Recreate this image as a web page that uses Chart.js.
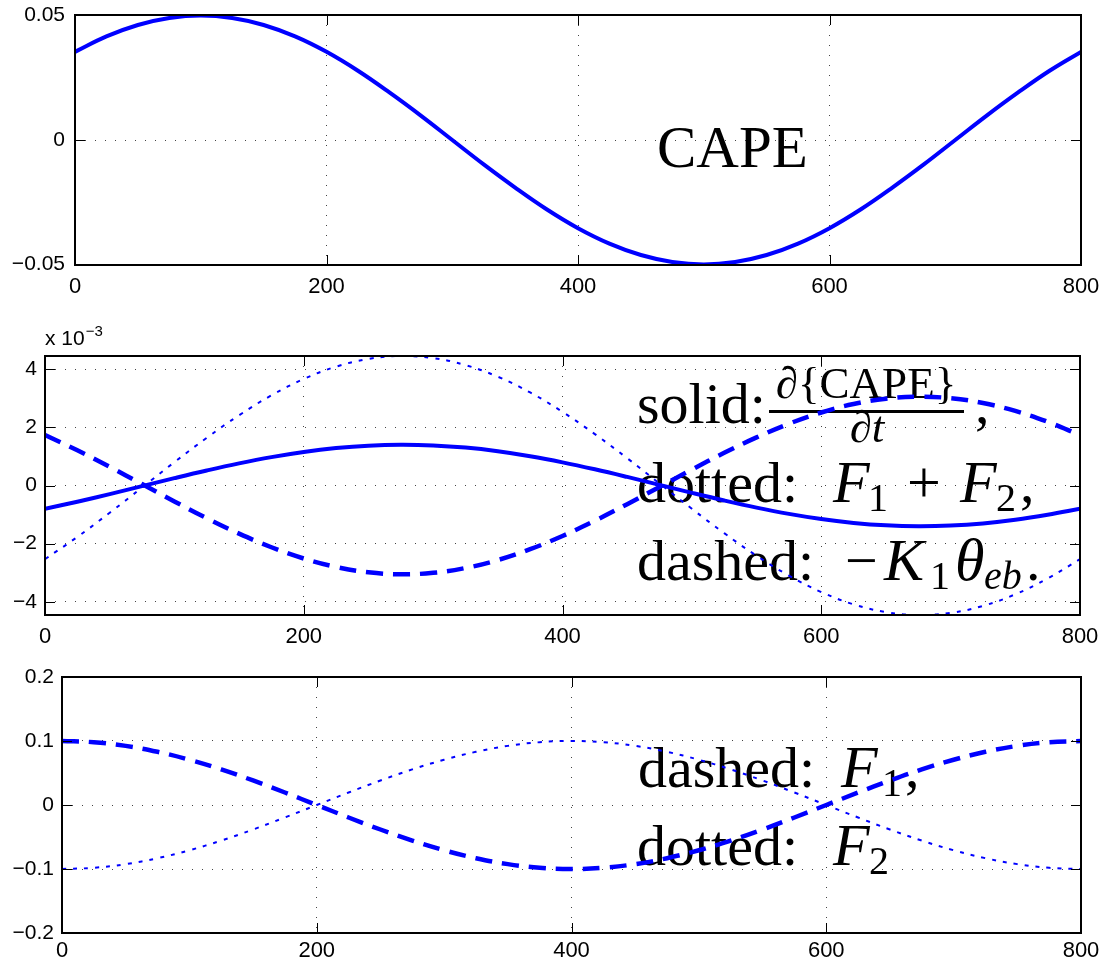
<!DOCTYPE html>
<html>
<head>
<meta charset="utf-8">
<script src="https://cdn.jsdelivr.net/npm/chart.js@4.4.0/dist/chart.umd.min.js"></script>
<style>
  body { margin: 0; background: #fff; }
  .panel { position: absolute; left: 0; }
</style>
</head>
<body>
<canvas id="chartTop" class="panel" width="1099" height="300" style="top:0px"></canvas>
<canvas id="chartMid" class="panel" width="1099" height="350" style="top:300px"></canvas>
<canvas id="chartBottom" class="panel" width="1099" height="312" style="top:650px"></canvas>
<script>
// sample positions along the x axis (read every 25 units)
const xValues = [0, 25, 50, 75, 100, 125, 150, 175, 200, 225, 250, 275, 300, 325, 350, 375, 400,
  425, 450, 475, 500, 525, 550, 575, 600, 625, 650, 675, 700, 725, 750, 775, 800];

// top panel: CAPE
const cape = [0.0354, 0.0416, 0.0462, 0.049, 0.05, 0.049, 0.0462, 0.0416, 0.0354, 0.0278, 0.0191,
  0.0098, 0, -0.0098, -0.0191, -0.0278, -0.0354, -0.0416, -0.0462, -0.049, -0.05, -0.049, -0.0462,
  -0.0416, -0.0354, -0.0278, -0.0191, -0.0098, 0, 0.0098, 0.0191, 0.0278, 0.0354];

// middle panel (units of 1e-3)
const dCapeDt = [-0.8, -0.556, -0.295, -0.022, 0.252, 0.515, 0.759, 0.974, 1.152, 1.285, 1.369,
  1.4, 1.377, 1.302, 1.176, 1.005, 0.796, 0.556, 0.295, 0.022, -0.252, -0.515, -0.759, -0.974,
  -1.152, -1.285, -1.369, -1.4, -1.377, -1.302, -1.176, -1.005, -0.8];
const f1PlusF2 = [-2.53, -1.767, -0.937, -0.07, 0.8, 1.638, 2.414, 3.097, 3.661, 4.084, 4.35,
  4.45, 4.378, 4.138, 3.738, 3.196, 2.53, 1.767, 0.937, 0.07, -0.8, -1.638, -2.414, -3.097,
  -3.661, -4.084, -4.35, -4.45, -4.378, -4.138, -3.738, -3.196, -2.53];
const minusK1Theta = [1.734, 1.211, 0.642, 0.048, -0.548, -1.123, -1.654, -2.122, -2.509, -2.799,
  -2.982, -3.05, -3.0, -2.836, -2.562, -2.19, -1.734, -1.211, -0.642, -0.048, 0.548, 1.123, 1.654,
  2.122, 2.509, 2.799, 2.982, 3.05, 3.0, 2.836, 2.562, 2.19, 1.734];

// bottom panel: F1 and F2
const f1 = [0.1, 0.0981, 0.0924, 0.0831, 0.0707, 0.0556, 0.0383, 0.0195, 0, -0.0195, -0.0383,
  -0.0556, -0.0707, -0.0831, -0.0924, -0.0981, -0.1, -0.0981, -0.0924, -0.0831, -0.0707, -0.0556,
  -0.0383, -0.0195, 0, 0.0195, 0.0383, 0.0556, 0.0707, 0.0831, 0.0924, 0.0981, 0.1];
const f2 = [-0.1, -0.0981, -0.0924, -0.0831, -0.0707, -0.0556, -0.0383, -0.0195, 0, 0.0195, 0.0383,
  0.0556, 0.0707, 0.0831, 0.0924, 0.0981, 0.1, 0.0981, 0.0924, 0.0831, 0.0707, 0.0556, 0.0383,
  0.0195, 0, -0.0195, -0.0383, -0.0556, -0.0707, -0.0831, -0.0924, -0.0981, -0.1];

// tick values
const xTicks = [0, 200, 400, 600, 800];
const yTicksTop = [-0.05, 0, 0.05];
const yTicksMid = [-4, -2, 0, 2, 4];
const yTicksBottom = [-0.2, -0.1, 0, 0.1, 0.2];

const BLUE = "#0000ff";
const SERIF = "'Liberation Serif', 'Times New Roman', serif";
const SANS = "'Liberation Sans', Arial, sans-serif";

function toPoints(ys) {
  return xValues.map((x, i) => ({ x: x, y: ys[i] }));
}

function formatTick(value) {
  return value < 0 ? "\u2212" + String(-value) : String(value);
}

function solid(ys) {
  return { data: toPoints(ys), borderColor: BLUE, borderWidth: 4, pointRadius: 0, tension: 0.4 };
}
function dashed(ys) {
  return { data: toPoints(ys), borderColor: BLUE, borderWidth: 4.5, borderDash: [17, 10], pointRadius: 0, tension: 0.4 };
}
function dotted(ys) {
  return { data: toPoints(ys), borderColor: BLUE, borderWidth: 2, borderDash: [4, 7], pointRadius: 0, tension: 0.4 };
}

// frame round the plot area plus inward tick marks (matlab style)
const chartAreaBorder = {
  id: "chartAreaBorder",
  afterDraw(chart) {
    const { ctx, chartArea: { left, top, right, bottom } } = chart;
    ctx.save();
    ctx.strokeStyle = "#000";
    ctx.lineWidth = 2;
    ctx.strokeRect(left, top, right - left, bottom - top);
    ctx.lineWidth = 1;
    ctx.beginPath();
    chart.scales.x.ticks.forEach((t) => {
      const px = Math.round(chart.scales.x.getPixelForValue(t.value)) + 0.5;
      ctx.moveTo(px, bottom);
      ctx.lineTo(px, bottom - 10);
      ctx.moveTo(px, top);
      ctx.lineTo(px, top + 10);
    });
    chart.scales.y.ticks.forEach((t) => {
      const py = Math.round(chart.scales.y.getPixelForValue(t.value)) + 0.5;
      ctx.moveTo(left, py);
      ctx.lineTo(left + 10, py);
      ctx.moveTo(right, py);
      ctx.lineTo(right - 10, py);
    });
    ctx.stroke();
    ctx.restore();
  },
};

// each part: text, x, size, italic, dy
function drawParts(ctx, y, parts) {
  parts.forEach((p) => {
    ctx.font = (p.italic ? "italic " : "") + p.size + "px " + SERIF;
    ctx.fillText(p.text, p.x, y + (p.dy || 0));
  });
}

function textPlugin(id, draw) {
  return {
    id: id,
    beforeDatasetsDraw(chart) {
      const ctx = chart.ctx;
      ctx.save();
      ctx.fillStyle = "#000";
      ctx.textBaseline = "alphabetic";
      draw(ctx);
      ctx.restore();
    },
  };
}

function makePanel(canvasId, datasets, yMin, yMax, yTicks, opts, plugin) {
  const config = {
    type: "line",
    data: { datasets: datasets },
    options: {
      responsive: false,
      animation: false,
      layout: { padding: { top: opts.padTop, right: opts.padRight, left: 0, bottom: 0 } },
      plugins: { legend: { display: false }, tooltip: { enabled: false } },
      scales: {
        x: {
          type: "linear",
          min: 0,
          max: 800,
          afterBuildTicks: (scale) => { scale.ticks = xTicks.map((v) => ({ value: v })); },
          afterFit: (scale) => {
            scale.height = opts.xHeight;
            scale.paddingLeft = 0;
            scale.paddingRight = 0;
          },
          ticks: { color: "#000", font: { family: SANS, size: 22 }, padding: opts.xPad, maxRotation: 0, callback: formatTick },
          grid: { color: "#444", lineWidth: 1, drawTicks: false },
          border: { display: false, dash: [1, 9] },
        },
        y: {
          min: yMin,
          max: yMax,
          afterBuildTicks: (scale) => { scale.ticks = yTicks.map((v) => ({ value: v })); },
          afterFit: (scale) => {
            scale.width = opts.yWidth;
            scale.paddingTop = 0;
            scale.paddingBottom = 0;
          },
          ticks: { color: "#000", font: { family: SANS, size: 21 }, padding: opts.yPad, callback: formatTick },
          grid: { color: "#444", lineWidth: 1, drawTicks: false },
          border: { display: false, dash: [1, 9] },
        },
      },
    },
    plugins: [chartAreaBorder, plugin],
  };
  return new Chart(document.getElementById(canvasId), config);
}

makePanel("chartTop", [solid(cape)], -0.0502, 0.0502, yTicksTop,
  { padTop: 15, padRight: 18, xHeight: 35, yWidth: 75, xPad: 9, yPad: 10 },
  textPlugin("capeText", (ctx) => {
    drawParts(ctx, 167, [{ text: "CAPE", x: 657, size: 59 }]);
  }));

makePanel("chartMid", [solid(dCapeDt), dotted(f1PlusF2), dashed(minusK1Theta)], -4.45, 4.45, yTicksMid,
  { padTop: 56, padRight: 19, xHeight: 35, yWidth: 45, xPad: 9, yPad: 8 },
  {
    id: "midText",
    beforeDatasetsDraw(chart) {
      const ctx = chart.ctx;
      ctx.save();
      ctx.fillStyle = "#000";
      drawParts(ctx, 123, [{ text: "solid:", x: 637, size: 58 }]);
      // fraction d{CAPE}/dt
      ctx.font = "45px " + SERIF;
      ctx.textAlign = "center";
      ctx.fillText("\u2202{CAPE}", 866, 98);
      ctx.font = "italic 45px " + SERIF;
      ctx.fillText("\u2202t", 867, 142);
      ctx.fillRect(769, 110, 195, 3);
      ctx.textAlign = "left";
      drawParts(ctx, 123, [{ text: ",", x: 975, size: 58 }]);
      drawParts(ctx, 202, [
        { text: "dotted:", x: 637, size: 58 },
        { text: "F", x: 833, size: 60, italic: true },
        { text: "1", x: 868, size: 40, dy: 9 },
        { text: "+", x: 907, size: 60 },
        { text: "F", x: 960, size: 60, italic: true },
        { text: "2", x: 996, size: 40, dy: 9 },
        { text: ",", x: 1020, size: 58 },
      ]);
      drawParts(ctx, 280, [
        { text: "dashed:", x: 637, size: 58 },
        { text: "\u2212", x: 845, size: 58 },
        { text: "K", x: 884, size: 60, italic: true },
        { text: "1", x: 930, size: 40, dy: 9 },
        { text: "\u03b8", x: 955, size: 60, italic: true },
        { text: "eb", x: 984, size: 40, italic: true, dy: 9 },
        { text: ".", x: 1026, size: 58 },
      ]);
      ctx.restore();
    },
    afterDraw(chart) {
      const ctx = chart.ctx;
      ctx.save();
      ctx.fillStyle = "#000";
      ctx.font = "21px " + SANS;
      ctx.fillText("x 10", 45, 45);
      const w = ctx.measureText("x 10").width;
      ctx.font = "15px " + SANS;
      ctx.fillText("\u22123", 45 + w + 1, 36);
      ctx.restore();
    },
  });

makePanel("chartBottom", [dashed(f1), dotted(f2)], -0.2, 0.2, yTicksBottom,
  { padTop: 27, padRight: 18, xHeight: 29, yWidth: 62, xPad: 5, yPad: 8 },
  textPlugin("bottomText", (ctx) => {
    drawParts(ctx, 137, [
      { text: "dashed:", x: 638, size: 58 },
      { text: "F", x: 841, size: 60, italic: true },
      { text: "1", x: 882, size: 40, dy: 9 },
      { text: ",", x: 905, size: 58 },
    ]);
    drawParts(ctx, 215, [
      { text: "dotted:", x: 637, size: 58 },
      { text: "F", x: 833, size: 60, italic: true },
      { text: "2", x: 869, size: 40, dy: 9 },
    ]);
  }));
</script>
</body>
</html>
